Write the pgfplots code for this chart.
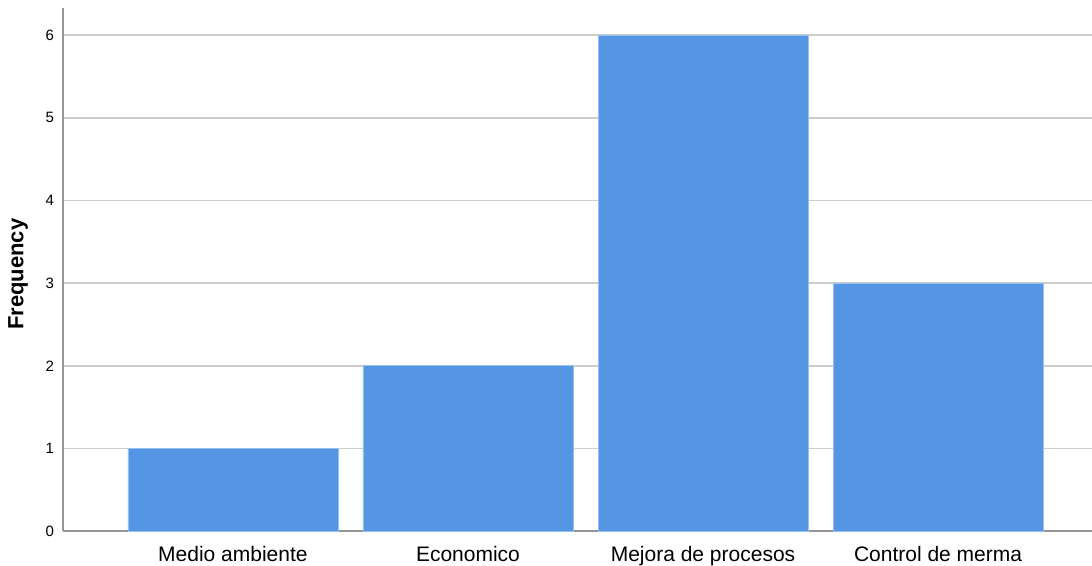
\documentclass[border=0pt]{standalone}
\usepackage{pgfplots}
\pgfplotsset{compat=1.18}
\usepackage{fontspec}
\setmainfont{Liberation Sans}
\definecolor{barblue}{RGB}{84,150,228}
\definecolor{gridgray}{RGB}{205,205,205}
\definecolor{axgray}{RGB}{150,150,150}
\begin{document}
\begin{tikzpicture}
\begin{axis}[
  name=ax,
  scale only axis,
  width=514.5pt, height=261.5pt,
  xmin=-0.723, xmax=3.655,
  ymin=0, ymax=6.33,
  ytick={0,1,2,3,4,5,6},
  xtick=data,
  xticklabels={Medio ambiente,Economico,Mejora de procesos,Control de merma},
  axis x line*=bottom, axis y line*=left,
  axis line style={axgray, line width=0.8pt},
  major tick length=0pt,
  ymajorgrids,
  grid style={gridgray, line width=0.8pt},
  /pgf/number format/assume math mode=true,
  yticklabel style={font=\fontsize{7.5}{8}\selectfont, xshift=-1pt},
  xticklabel style={font=\fontsize{10.5}{12}\selectfont, yshift=-4pt},
  ylabel={Frequency},
  ylabel style={font=\bfseries\fontsize{11}{13}\selectfont, at={(axis description cs:-0.0437,0.491)}, anchor=center},
  ybar, bar width=105pt,
]
\addplot[fill=barblue, draw=barblue!60!white, line width=0.4pt] coordinates {(0,1) (1,2) (2,6) (3,3)};
\end{axis}
\pgfresetboundingbox
\path ([shift={(-31.5pt,-17pt)}]ax.south west) rectangle ([shift={(0pt,4pt)}]ax.north east);
\end{tikzpicture}
\end{document}
